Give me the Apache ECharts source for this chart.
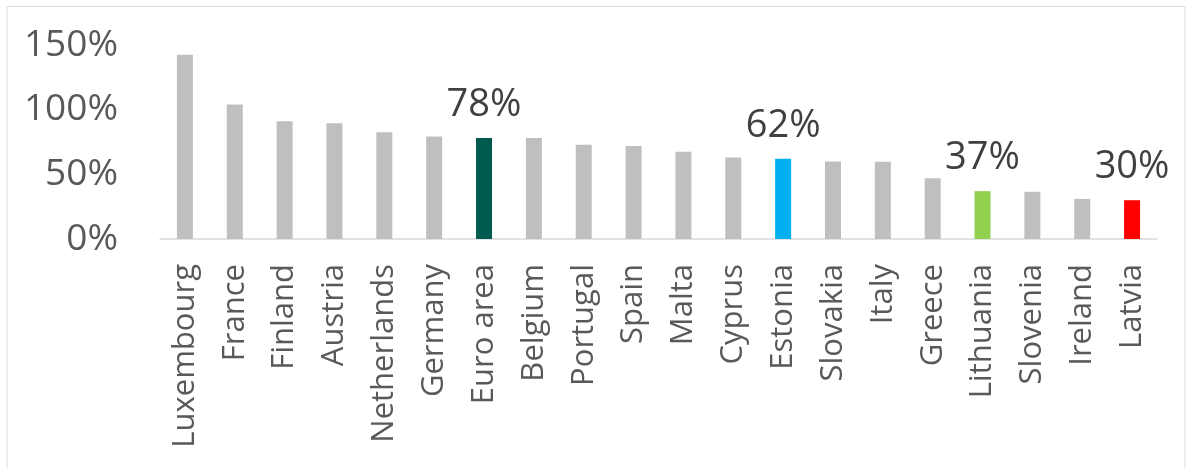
<!DOCTYPE html>
<html>
<head>
<meta charset="utf-8">
<script src="https://cdn.jsdelivr.net/npm/echarts@6/dist/echarts.min.js"></script>
<style>
  html, body { margin: 0; padding: 0; background: #ffffff; }
  #chart { width: 1186px; height: 468px; }
</style>
</head>
<body>
<div id="chart"></div>
<script>
// Countries, ordered from highest to lowest share
const categories = [
  'Luxembourg', 'France', 'Finland', 'Austria', 'Netherlands', 'Germany',
  'Euro area', 'Belgium', 'Portugal', 'Spain', 'Malta', 'Cyprus', 'Estonia',
  'Slovakia', 'Italy', 'Greece', 'Lithuania', 'Slovenia', 'Ireland', 'Latvia'
];

// Share, percent
const values = [
  142.5, 104, 91, 89.5, 82.5, 79.3,
  78, 78, 72.8, 72, 67.4, 63, 62,
  60, 59.7, 47, 37, 36.5, 31, 30
];

// Highlighted bars and their colours
const highlights = {
  'Euro area': '#005a4e',
  'Estonia': '#00b0f0',
  'Lithuania': '#92d050',
  'Latvia': '#ff0000'
};

const yTicks = [0, 50, 100, 150];

const FONT = '"Open Sans", "Noto Sans", sans-serif';

const seriesData = categories.map((name, i) => {
  const color = highlights[name];
  const item = { value: values[i], itemStyle: { color: color || '#bfbfbf' } };
  if (color) {
    item.label = {
      show: true,
      position: 'top',
      distance: 14,
      formatter: (p) => Math.round(p.value) + '%',
      color: '#404040',
      fontFamily: FONT,
      fontSize: 38
    };
  }
  return item;
});

const chart = echarts.init(document.getElementById('chart'), null, { renderer: 'canvas' });

chart.setOption({
  animation: false,
  backgroundColor: '#ffffff',
  graphic: [{
    type: 'rect',
    shape: { x: 7, y: 6.5, width: 1178, height: 480 },
    style: { fill: 'none', stroke: '#d9d9d9', lineWidth: 1 },
    silent: true
  }],
  grid: { left: 160, right: 29, top: 45, bottom: 229 },
  xAxis: {
    type: 'category',
    data: categories,
    axisLine: { show: true, lineStyle: { color: '#d9d9d9', width: 1.5 } },
    axisTick: { show: false },
    axisLabel: {
      rotate: 90,
      interval: 0,
      margin: 25,
      color: '#595959',
      fontFamily: FONT,
      fontSize: 31
    }
  },
  yAxis: {
    type: 'value',
    min: yTicks[0],
    max: yTicks[yTicks.length - 1],
    interval: 50,
    splitLine: { show: false },
    axisLine: { show: false },
    axisTick: { show: false },
    axisLabel: {
      margin: 42,
      color: '#595959',
      fontFamily: FONT,
      fontSize: 37,
      formatter: (v) => v + '%'
    }
  },
  series: [{
    type: 'bar',
    data: seriesData,
    barWidth: 16,
    label: { show: false }
  }]
});
</script>
</body>
</html>
